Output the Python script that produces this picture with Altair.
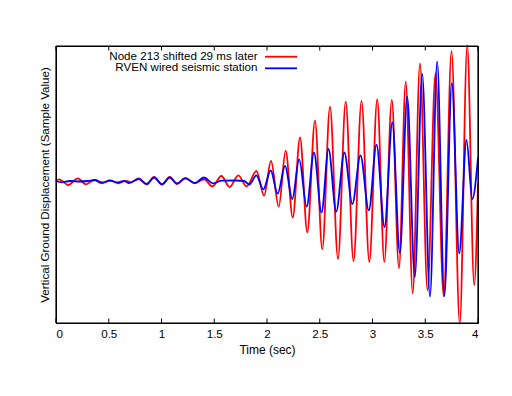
import altair as alt
import pandas as pd

# ---- data (time in s, displacement in arbitrary sample units) ----
red_time = [0.000, 0.028, 0.117, 0.206, 0.284, 0.363, 0.433, 0.512, 0.591, 0.664, 0.711,
            0.784, 0.860, 0.929, 1.005, 1.078, 1.147, 1.226, 1.315, 1.403, 1.483, 1.567,
            1.646, 1.728, 1.806, 1.900, 1.972, 2.038, 2.111, 2.177, 2.244, 2.313, 2.382,
            2.455, 2.524, 2.597, 2.673, 2.746, 2.820, 2.896, 2.970, 3.045, 3.112, 3.183,
            3.251, 3.315, 3.381, 3.450, 3.521, 3.597, 3.675, 3.749, 3.827, 3.898, 3.964, 4.000]
red_val = [13, 27, -30, 37, -23, 20, -13, 13, -13, 12, -3,
           35, -25, 50, -27, 50, -20, 40, -13, 27, -45, 60,
           -50, 67, -45, 110, -137, 210, -247, 313, -357, 447, -503,
           613, -673, 753, -770, 803, -792, 812, -800, 828, -800, 820,
           -863, 1003, -1113, 1187, -1080, 1087, -1143, 1310, -1420, 1365, -1030, -13]

blue_time = [0.000, 0.054, 0.133, 0.227, 0.303, 0.370, 0.436, 0.512, 0.588, 0.645, 0.692,
             0.784, 0.860, 0.929, 1.005, 1.078, 1.147, 1.226, 1.318, 1.401, 1.488, 1.573,
             1.706, 1.782, 1.834, 1.899, 1.965, 2.035, 2.101, 2.171, 2.240, 2.305, 2.376,
             2.445, 2.517, 2.583, 2.656, 2.733, 2.809, 2.886, 2.965, 3.038, 3.114, 3.188,
             3.259, 3.329, 3.401, 3.471, 3.545, 3.613, 3.681, 3.752, 3.822, 3.891, 3.946, 4.000]
blue_val = [10, -3, 10, 5, 10, 20, -5, 15, -5, 12, -10,
            30, -20, 45, -23, 45, -15, 37, -10, 45, -13, 13,
            15, 10, -25, 67, -73, 115, -117, 160, -170, 227, -247,
            297, -307, 330, -297, 295, -220, 267, -283, 373, -450, 597,
            -707, 853, -950, 1080, -1147, 1203, -1140, 992, -713, 420, -172, 245]

series_names = ["Node 213 shifted 29 ms later", "RVEN wired seismic station"]
series_colors = ["#ff0000", "#0000ff"]
x_tick_values = [0, 0.5, 1, 1.5, 2, 2.5, 3, 3.5, 4]

W, H = 422, 277
FONT = "Liberation Sans"
FS = 11.6
FRAME = "#000000"

df_red = pd.DataFrame({"t": red_time, "v": red_val})
df_blue = pd.DataFrame({"t": blue_time, "v": blue_val})
df_ticks = pd.DataFrame({"t": x_tick_values})
df_frame = pd.DataFrame({"x0": [0, 0, 0, 4], "x1": [4, 4, 0, 4],
                         "y0": [-1410, 1360, -1410, -1410], "y1": [-1410, 1360, 1360, 1360]})

xscale = alt.Scale(domain=[0, 4], nice=False)
yscale = alt.Scale(domain=[-1410, 1360], nice=False, zero=False)

x_enc = alt.X("t:Q", scale=xscale,
              axis=alt.Axis(values=x_tick_values, format="~g", ticks=False, domain=True,
                            domainColor=FRAME, domainWidth=1,
                            grid=False, labelPadding=5, labelFontSize=FS, labelFont=FONT,
                            labelColor="#000", title="Time (sec)", titleFontSize=12,
                            titleFont=FONT, titleFontWeight="normal", titleColor="#000",
                            titlePadding=5))
y_enc = alt.Y("v:Q", scale=yscale,
              axis=alt.Axis(labels=False, ticks=False, domain=True, domainColor=FRAME,
                            domainWidth=1, grid=False,
                            title="Vertical Ground Displacement (Sample Value)",
                            titleFontSize=FS, titleFont=FONT, titleFontWeight="normal",
                            titleColor="#000", titlePadding=6))

# plot border (gnuplot style box) drawn through the scales
border = alt.Chart(df_frame).mark_rule(color=FRAME, strokeWidth=1.2).encode(
    x=alt.X("x0:Q", scale=xscale), x2="x1:Q",
    y=alt.Y("y0:Q", scale=yscale), y2="y1:Q")

red_line = alt.Chart(df_red).mark_line(color=series_colors[0], strokeWidth=1.8,
                                       interpolate="monotone", clip=False).encode(x=x_enc, y=y_enc)
blue_line = alt.Chart(df_blue).mark_line(color=series_colors[1], strokeWidth=1.8,
                                         interpolate="monotone", clip=False).encode(
    x=alt.X("t:Q", scale=xscale), y=alt.Y("v:Q", scale=yscale))

bottom_ticks = alt.Chart(df_ticks).mark_rule(color=FRAME, strokeWidth=1).encode(
    x=alt.X("t:Q", scale=xscale), y=alt.value(H), y2=alt.value(H - 4.5))
top_ticks = alt.Chart(df_ticks).mark_rule(color=FRAME, strokeWidth=1).encode(
    x=alt.X("t:Q", scale=xscale), y=alt.value(0), y2=alt.value(4.5))

legend_layers = []
for i, (name, col) in enumerate(zip(series_names, series_colors)):
    ly = 10.7 + i * 11.6
    ldf = pd.DataFrame({"label": [name]})
    legend_layers.append(
        alt.Chart(ldf).mark_text(align="right", baseline="middle", fontSize=FS, font=FONT,
                                 color="#000").encode(text="label:N", x=alt.value(201.5), y=alt.value(ly)))
    legend_layers.append(
        alt.Chart(ldf).mark_rule(color=col, strokeWidth=1.8).encode(
            x=alt.value(209), x2=alt.value(241), y=alt.value(ly)))

chart = alt.layer(red_line, blue_line, border, bottom_ticks, top_ticks, *legend_layers).properties(
    width=W, height=H,
    autosize=alt.AutoSizeParams(type="none"),
    padding={"left": 48, "top": 38, "right": 10, "bottom": 50},
    background="white",
).configure_view(stroke="#000", strokeWidth=1)

chart.save("out.html", embed_options={"renderer": "svg", "actions": False})
